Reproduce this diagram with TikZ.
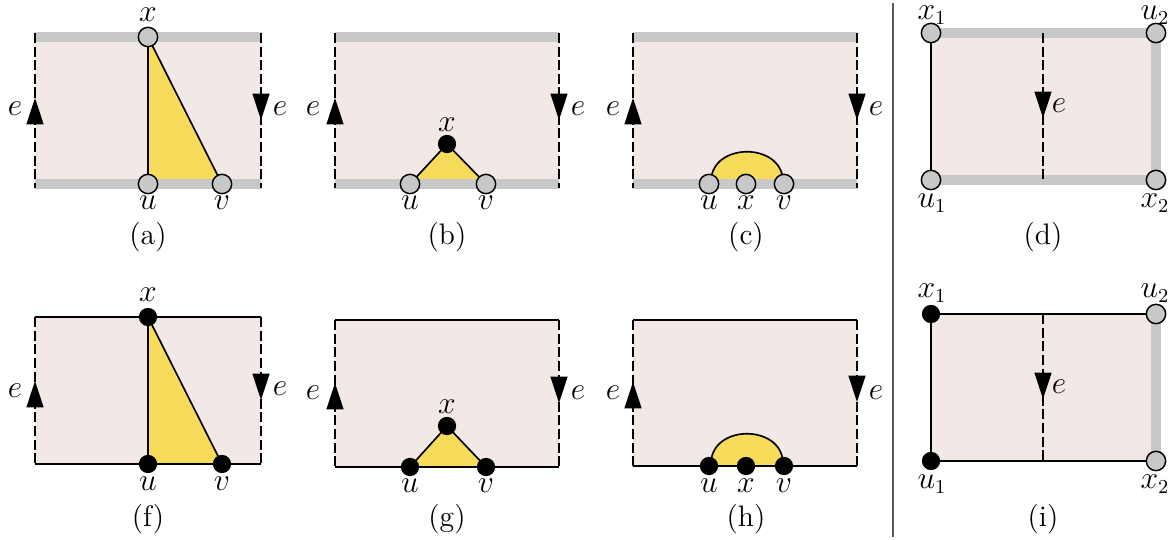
\documentclass[tikz,border=0pt]{standalone}
\usetikzlibrary{arrows.meta}
\definecolor{pk}{RGB}{242,232,230}
\definecolor{yl}{RGB}{247,220,92}
\definecolor{gb}{RGB}{200,200,200}
\definecolor{sep}{RGB}{90,90,90}
\begin{document}
\begin{tikzpicture}[x=0.455pt,y=-0.455pt,
  bg/.style={fill=pk},
  bar/.style={draw=gb,line width=4.8pt},
  blk/.style={draw=black,line width=1.1pt},
  dsh/.style={draw=black,line width=1.1pt,dash pattern=on 4.6pt off 1.6pt},
  thinl/.style={draw=black,line width=0.75pt},
  yfill/.style={fill=yl},
  arr/.style={draw=black,solid,line width=1.1pt,-{Triangle[length=12pt,width=7.6pt]}},
  gv/.style={circle,draw=black,fill=gb,line width=0.65pt,minimum size=8.8pt,inner sep=0pt},
  bv/.style={circle,fill=black,minimum size=8.3pt,inner sep=0pt},
  lbl/.style={inner sep=0pt,font=\fontsize{13.5}{16}\selectfont}]
\useasboundingbox (0,0) rectangle (1174,540);

% ================= (a) =================
\fill[bg] (35,37) rectangle (261,184);
\coordinate (ax) at (148,37); \coordinate (au) at (148,184); \coordinate (av) at (222,184);
\fill[yfill] (ax) -- (au) -- (av) -- cycle;
\draw[thinl] (au) -- (ax) -- (av);
\draw[bar] (35,37) -- (261,37);
\draw[bar] (35,184) -- (261,184);
\draw[dsh] (35,33) -- (35,188);
\draw[dsh] (261,33) -- (261,188);
\draw[arr] (35,124) -- (35,98);
\draw[arr] (261,94) -- (261,120);
\node[gv] (ax-n) at (ax) {}; \node[gv] (au-n) at (au) {}; \node[gv] (av-n) at (av) {};
\node[lbl] (ax-l) at (148,15) {$x$};
\node[lbl] (au-l) at (148,203) {$u$};
\node[lbl] (av-l) at (222,203) {$v$};
\node[lbl] (a-el) at (15,109) {$e$};
\node[lbl] (a-er) at (280,109) {$e$};
\node[lbl] (a-cap) at (148,237) {(a)};

% ================= (b) =================
\fill[bg] (335,37) rectangle (559,184);
\coordinate (bx) at (447,144); \coordinate (bu) at (410,184); \coordinate (bv) at (486,184);
\fill[yfill] (bx) -- (bu) -- (bv) -- cycle;
\draw[thinl] (bu) -- (bx) -- (bv);
\draw[bar] (335,37) -- (559,37);
\draw[bar] (335,184) -- (559,184);
\draw[dsh] (335,33) -- (335,188);
\draw[dsh] (559,33) -- (559,188);
\draw[arr] (335,124) -- (335,98);
\draw[arr] (559,94) -- (559,120);
\node[bv] (bx-n) at (bx) {}; \node[gv] (bu-n) at (bu) {}; \node[gv] (bv-n) at (bv) {};
\node[lbl] (bx-l) at (447,125) {$x$};
\node[lbl] (bu-l) at (410,203) {$u$};
\node[lbl] (bv-l) at (486,203) {$v$};
\node[lbl] (b-el) at (313,109) {$e$};
\node[lbl] (b-er) at (578,109) {$e$};
\node[lbl] (b-cap) at (447,237) {(b)};

% ================= (c) =================
\fill[bg] (633,37) rectangle (857,184);
\coordinate (cu) at (709,184); \coordinate (cx) at (746,184); \coordinate (cv) at (784,184);
\fill[yfill] (711,184) -- (711,181) .. controls (712,142) and (782,142) .. (783,181) -- (783,184) -- cycle;
\draw[thinl] (711,181) .. controls (712,142) and (782,142) .. (783,181);
\draw[bar] (633,37) -- (857,37);
\draw[bar] (633,184) -- (857,184);
\draw[dsh] (633,33) -- (633,188);
\draw[dsh] (857,33) -- (857,188);
\draw[arr] (633,124) -- (633,98);
\draw[arr] (857,94) -- (857,120);
\node[gv] (cu-n) at (cu) {}; \node[gv] (cx-n) at (cx) {}; \node[gv] (cv-n) at (cv) {};
\node[lbl] (cu-l) at (709,203) {$u$};
\node[lbl] (cx-l) at (746,203) {$x$};
\node[lbl] (cv-l) at (784,203) {$v$};
\node[lbl] (c-el) at (613,109) {$e$};
\node[lbl] (c-er) at (876,109) {$e$};
\node[lbl] (c-cap) at (746,237) {(c)};

% ================= separator =================
\draw[draw=sep,line width=0.6pt] (893,3) -- (893,537);

% ================= (d) =================
\fill[bg] (931,33) rectangle (1156,180);
\draw[bar] (931,33) -- (1156,33) -- (1156,180) -- (931,180);
\draw[blk] (931,33) -- (931,180);
\draw[dsh] (1043,33) -- (1043,180);
\draw[arr] (1043,92) -- (1043,118);
\node[gv] (dx1) at (931,33) {}; \node[gv] (du2) at (1156,33) {};
\node[gv] (du1) at (931,180) {}; \node[gv] (dx2) at (1156,180) {};
\node[lbl] (dx1-l) at (932,15) {$x_1$};
\node[lbl] (du2-l) at (1155,15) {$u_2$};
\node[lbl] (du1-l) at (932,203) {$u_1$};
\node[lbl] (dx2-l) at (1155,203) {$x_2$};
\node[lbl] (d-e) at (1059,106) {$e$};
\node[lbl] (d-cap) at (1043,237) {(d)};

% ================= (f) =================
\fill[bg] (35,317) rectangle (261,464);
\coordinate (fx) at (148,317); \coordinate (fu) at (148,464); \coordinate (fv) at (222,464);
\fill[yfill] (fx) -- (fu) -- (fv) -- cycle;
\draw[thinl] (fu) -- (fx) -- (fv);
\draw[blk] (35,317) -- (261,317);
\draw[blk] (35,464) -- (261,464);
\draw[dsh] (35,317) -- (35,464);
\draw[dsh] (261,317) -- (261,464);
\draw[arr] (35,404) -- (35,381);
\draw[arr] (261,376) -- (261,400);
\node[bv] (fx-n) at (fx) {}; \node[bv] (fu-n) at (fu) {}; \node[bv] (fv-n) at (fv) {};
\node[lbl] (fx-l) at (148,295) {$x$};
\node[lbl] (fu-l) at (148,484) {$u$};
\node[lbl] (fv-l) at (222,484) {$v$};
\node[lbl] (f-el) at (15,391) {$e$};
\node[lbl] (f-er) at (280,389) {$e$};
\node[lbl] (f-cap) at (148,519) {(f)};

% ================= (g) =================
\fill[bg] (335,320) rectangle (559,467);
\coordinate (gx) at (447,426); \coordinate (gu) at (410,467); \coordinate (gv) at (486,467);
\fill[yfill] (gx) -- (gu) -- (gv) -- cycle;
\draw[thinl] (gu) -- (gx) -- (gv);
\draw[blk] (335,320) -- (559,320);
\draw[blk] (335,467) -- (559,467);
\draw[dsh] (335,320) -- (335,467);
\draw[dsh] (559,320) -- (559,467);
\draw[arr] (335,407) -- (335,383);
\draw[arr] (559,379) -- (559,403);
\node[bv] (gx-n) at (gx) {}; \node[bv] (gu-n) at (gu) {}; \node[bv] (gv-n) at (gv) {};
\node[lbl] (gx-l) at (447,407) {$x$};
\node[lbl] (gu-l) at (410,486) {$u$};
\node[lbl] (gv-l) at (486,486) {$v$};
\node[lbl] (g-el) at (313,393) {$e$};
\node[lbl] (g-er) at (578,393) {$e$};
\node[lbl] (g-cap) at (447,519) {(g)};

% ================= (h) =================
\fill[bg] (633,320) rectangle (857,466);
\coordinate (hu) at (709,466); \coordinate (hx) at (746,466); \coordinate (hv) at (784,466);
\fill[yfill] (711,466) -- (711,463) .. controls (712,424) and (782,424) .. (783,463) -- (783,466) -- cycle;
\draw[thinl] (711,463) .. controls (712,424) and (782,424) .. (783,463);
\draw[blk] (633,320) -- (857,320);
\draw[blk] (633,466) -- (857,466);
\draw[dsh] (633,320) -- (633,466);
\draw[dsh] (857,320) -- (857,466);
\draw[arr] (633,406) -- (633,382);
\draw[arr] (857,378) -- (857,402);
\node[bv] (hu-n) at (hu) {}; \node[bv] (hx-n) at (hx) {}; \node[bv] (hv-n) at (hv) {};
\node[lbl] (hu-l) at (709,486) {$u$};
\node[lbl] (hx-l) at (746,486) {$x$};
\node[lbl] (hv-l) at (784,486) {$v$};
\node[lbl] (h-el) at (613,393) {$e$};
\node[lbl] (h-er) at (876,393) {$e$};
\node[lbl] (h-cap) at (746,519) {(h)};

% ================= (i) =================
\fill[bg] (931,314) rectangle (1156,461);
\draw[bar] (1156,314) -- (1156,461);
\draw[blk] (1156,314) -- (931,314) -- (931,461) -- (1156,461);
\draw[dsh] (1043,314) -- (1043,461);
\draw[arr] (1043,374) -- (1043,399);
\node[bv] (ix1) at (931,314) {}; \node[gv] (iu2) at (1156,314) {};
\node[bv] (iu1) at (931,461) {}; \node[gv] (ix2) at (1156,461) {};
\node[lbl] (ix1-l) at (932,293) {$x_1$};
\node[lbl] (iu2-l) at (1155,293) {$u_2$};
\node[lbl] (iu1-l) at (932,484) {$u_1$};
\node[lbl] (ix2-l) at (1155,484) {$x_2$};
\node[lbl] (i-e) at (1059,387) {$e$};
\node[lbl] (i-cap) at (1043,519) {(i)};
\end{tikzpicture}
\end{document}
